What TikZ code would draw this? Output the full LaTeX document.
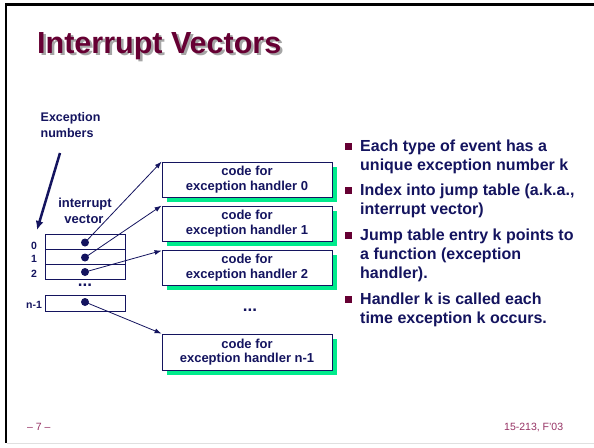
\documentclass[tikz,border=0pt]{standalone}
\usepackage{fontspec}
\setmainfont{Liberation Sans}
\usetikzlibrary{arrows.meta,shadows}
\definecolor{navy}{RGB}{20,20,95}
\definecolor{maroonc}{RGB}{102,0,51}
\definecolor{shgreen}{RGB}{0,235,140}
\definecolor{footc}{RGB}{150,50,100}
\definecolor{tshade}{RGB}{165,165,165}
\tikzset{
  txt/.style={inner sep=0, anchor=base west, text=navy, font=\bfseries\fontsize{16}{19}\selectfont},
  small/.style={inner sep=0, text=navy, font=\bfseries\fontsize{12.5}{15}\selectfont},
  handler/.style={draw=navy, fill=white, line width=0.8pt, minimum width=170pt, minimum height=35pt,
    inner sep=0, align=center, text=navy, font=\bfseries\fontsize{13}{14.6}\selectfont,
    drop shadow={fill=shgreen, opacity=1, shadow xshift=5pt, shadow yshift=-5pt}},
  vecrow/.style={draw=navy, line width=0.8pt, minimum width=80pt, minimum height=15pt, inner sep=0},
  vdot/.style={circle, fill=navy, minimum size=8pt, inner sep=0},
  ptr/.style={draw=navy, line width=0.8pt, -{Latex[length=7pt,width=5pt]}},
  bsq/.style={fill=maroonc, minimum size=7pt, inner sep=0},
  idx/.style={inner sep=0, anchor=base west, text=navy, font=\bfseries\fontsize{10.5}{12}\selectfont},
  foot/.style={inner sep=0, anchor=base west, text=footc, font=\fontsize{10.5}{12}\selectfont}
}
\newcommand{\shadowtitle}[1]{\makebox[0pt][l]{\hspace{2.5pt}\raisebox{-2.5pt}{\textcolor{tshade}{#1}}}#1}
\begin{document}
\begin{tikzpicture}[x=1pt,y=-1pt]
\useasboundingbox (0,0) rectangle (594,447);
\fill[white] (0,0) rectangle (594,447);
% frame
\draw[line width=2.6pt] (5,4.7) -- (594,4.7);
\draw[line width=2.3pt] (6.2,3.5) -- (6.2,443);
\draw[black!12, line width=0.8pt] (7,443) -- (594,443);
% title
\node[inner sep=0, anchor=base west, text=maroonc, font=\bfseries\fontsize{30.5}{34}\selectfont] (title) at (37,53) {\shadowtitle{Interrupt Vectors}};
% exception numbers
\node[small, anchor=base west] (en1) at (40.5,121) {Exception};
\node[small, anchor=base west] (en2) at (40.5,137) {numbers};
\coordinate (ea) at (60,153);
\coordinate (eb) at (37,230);
\draw[navy, line width=2.5pt, -{Latex[length=9pt,width=8pt]}] (ea) -- (eb);
% interrupt vector label
\node[small, anchor=base, font=\bfseries\fontsize{13}{15}\selectfont] (iv1) at (85,207) {interrupt};
\node[small, anchor=base, font=\bfseries\fontsize{13}{15}\selectfont] (iv2) at (84,223) {vector};
% vector table
\node[vecrow] (v0) at (85,241.5) {};
\node[vecrow] (v1) at (85,256.5) {};
\node[vecrow] (v2) at (85,271.5) {};
\node[vecrow, minimum height=16pt] (vn) at (85,303) {};
\node[vdot] (d0) at (85,242.5) {};
\node[vdot] (d1) at (85,257.5) {};
\node[vdot] (d2) at (85,272) {};
\node[vdot] (dn) at (85,302) {};
\node[idx] (l0) at (31,249) {0};
\node[idx] (l1) at (31,262.5) {1};
\node[idx] (l2) at (31,277) {2};
\node[idx] (ln) at (26,308) {n-1};
\node[inner sep=0, anchor=base, text=navy, font=\bfseries\fontsize{17}{19}\selectfont] (vdots) at (85,286) {...};
% handlers
\node[handler] (h0) at (247,179.5) {code for\\exception handler 0};
\node[handler] (h1) at (247,223.5) {code for\\exception handler 1};
\node[handler] (h2) at (247,267.5) {code for\\exception handler 2};
\node[handler, minimum height=36pt] (hn) at (247,352) {code for\\exception handler n-1};
\node[inner sep=0, anchor=base, text=navy, font=\bfseries\fontsize{17}{19}\selectfont] (hdots) at (250,311) {...};
% pointers
\draw[ptr] (d0.center) -- (h0.north west);
\draw[ptr] (d1.center) -- (h1.north west);
\draw[ptr] (d2.center) -- ([yshift=-1pt]h2.north west);
\draw[ptr] (dn.center) -- (hn.north west);
% bullets
\node[bsq] (b1) at (348.5,146.5) {};
\node[bsq] (b2) at (348.5,190.5) {};
\node[bsq] (b3) at (348.5,235.5) {};
\node[bsq] (b4) at (348.5,299.5) {};
\node[txt] (t1) at (360,151) {Each type of event has a};
\node[txt] (t2) at (360,170) {unique exception number k};
\node[txt] (t3) at (360,195) {Index into jump table (a.k.a.,};
\node[txt] (t4) at (360,214) {interrupt vector)};
\node[txt] (t5) at (360,240) {Jump table entry k points to};
\node[txt] (t6) at (360,259) {a function (exception};
\node[txt] (t7) at (360,278) {handler).};
\node[txt] (t8) at (360,304) {Handler k is called each};
\node[txt] (t9) at (360,323) {time exception k occurs.};
% footer
\node[foot] (f1) at (27,430) {-- 7 --};
\node[foot] (f2) at (504,430) {15-213, F'03};
\end{tikzpicture}
\end{document}
